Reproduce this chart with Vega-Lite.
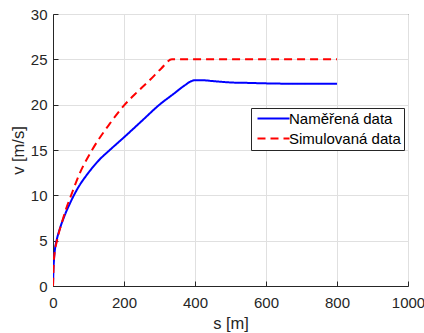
{
  "$schema": "https://vega.github.io/schema/vega-lite/v6.json",
  "width": 355,
  "height": 272,
  "autosize": {"type": "none"},
  "padding": {"left": 53, "top": 14, "right": 16, "bottom": 47},
  "background": "white",
  "config": {
    "font": "Liberation Sans",
    "view": {"stroke": "#262626", "strokeWidth": 1},
    "axis": {
      "domainColor": "#262626",
      "tickColor": "#262626",
      "labelColor": "#262626",
      "titleColor": "#262626",
      "labelFontSize": 15,
      "titleFontSize": 16.5,
      "titleFontWeight": "normal",
      "gridColor": "#e0e0e0",
      "gridWidth": 1,
      "tickSize": -5,
      "tickWidth": 1
    }
  },
  "data": {
    "values": [
      {"series": "Naměřená data", "s": 0, "v": 0},
      {"series": "Naměřená data", "s": 1, "v": 1.5},
      {"series": "Naměřená data", "s": 3, "v": 3.0},
      {"series": "Naměřená data", "s": 6, "v": 4.2},
      {"series": "Naměřená data", "s": 10, "v": 5.0},
      {"series": "Naměřená data", "s": 20, "v": 6.4},
      {"series": "Naměřená data", "s": 30, "v": 7.5},
      {"series": "Naměřená data", "s": 50, "v": 9.3},
      {"series": "Naměřená data", "s": 70, "v": 10.8},
      {"series": "Naměřená data", "s": 100, "v": 12.5},
      {"series": "Naměřená data", "s": 130, "v": 13.9},
      {"series": "Naměřená data", "s": 160, "v": 15.0},
      {"series": "Naměřená data", "s": 200, "v": 16.4},
      {"series": "Naměřená data", "s": 250, "v": 18.2},
      {"series": "Naměřená data", "s": 300, "v": 20.0},
      {"series": "Naměřená data", "s": 340, "v": 21.2},
      {"series": "Naměřená data", "s": 370, "v": 22.1},
      {"series": "Naměřená data", "s": 390, "v": 22.6},
      {"series": "Naměřená data", "s": 400, "v": 22.7},
      {"series": "Naměřená data", "s": 420, "v": 22.7},
      {"series": "Naměřená data", "s": 450, "v": 22.6},
      {"series": "Naměřená data", "s": 500, "v": 22.45},
      {"series": "Naměřená data", "s": 550, "v": 22.4},
      {"series": "Naměřená data", "s": 600, "v": 22.35},
      {"series": "Naměřená data", "s": 700, "v": 22.3},
      {"series": "Naměřená data", "s": 800, "v": 22.3},
      {"series": "Simulovaná data", "s": 0, "v": 0},
      {"series": "Simulovaná data", "s": 2, "v": 2.5},
      {"series": "Simulovaná data", "s": 5, "v": 3.8},
      {"series": "Simulovaná data", "s": 10, "v": 4.8},
      {"series": "Simulovaná data", "s": 16, "v": 5.8},
      {"series": "Simulovaná data", "s": 25, "v": 7.0},
      {"series": "Simulovaná data", "s": 35, "v": 8.3},
      {"series": "Simulovaná data", "s": 51, "v": 10.0},
      {"series": "Simulovaná data", "s": 75, "v": 12.4},
      {"series": "Simulovaná data", "s": 110, "v": 15.0},
      {"series": "Simulovaná data", "s": 160, "v": 17.9},
      {"series": "Simulovaná data", "s": 202, "v": 20.0},
      {"series": "Simulovaná data", "s": 240, "v": 21.5},
      {"series": "Simulovaná data", "s": 275, "v": 22.8},
      {"series": "Simulovaná data", "s": 305, "v": 24.0},
      {"series": "Simulovaná data", "s": 335, "v": 25.0},
      {"series": "Simulovaná data", "s": 400, "v": 25.0},
      {"series": "Simulovaná data", "s": 600, "v": 25.0},
      {"series": "Simulovaná data", "s": 800, "v": 25.0}
    ]
  },
  "mark": {"type": "line", "strokeWidth": 2, "clip": true, "interpolate": "monotone"},
  "encoding": {
    "x": {
      "field": "s",
      "type": "quantitative",
      "scale": {"domain": [0, 1000], "nice": false},
      "axis": {"values": [0, 200, 400, 600, 800, 1000], "format": "d", "title": "s [m]", "labelPadding": 14, "titlePadding": 5, "labelFlush": false}
    },
    "y": {
      "field": "v",
      "type": "quantitative",
      "scale": {"domain": [0, 30], "nice": false},
      "axis": {"values": [0, 5, 10, 15, 20, 25, 30], "title": "v [m/s]", "labelPadding": 11, "titlePadding": 4}
    },
    "color": {
      "field": "series",
      "type": "nominal",
      "scale": {"domain": ["Naměřená data", "Simulovaná data"], "range": ["#0000ff", "#ff0000"]},
      "legend": {
        "title": null,
        "orient": "none",
        "legendX": 198,
        "legendY": 94,
        "fillColor": "white",
        "strokeColor": "#262626",
        "padding": 3,
        "rowPadding": 4,
        "labelFontSize": 15,
        "labelColor": "black",
        "labelOffset": 20,
        "symbolType": "M-1,0H7",
        "symbolSize": 64,
        "symbolStrokeWidth": 2
      }
    },
    "strokeDash": {
      "field": "series",
      "type": "nominal",
      "scale": {"domain": ["Naměřená data", "Simulovaná data"], "range": [[1, 0], [8, 5]]},
      "legend": {
        "title": null,
        "orient": "none",
        "legendX": 198,
        "legendY": 94,
        "fillColor": "white",
        "strokeColor": "#262626",
        "padding": 3,
        "rowPadding": 4,
        "labelFontSize": 15,
        "labelColor": "black",
        "labelOffset": 20,
        "symbolType": "M-1,0H7",
        "symbolSize": 64,
        "symbolStrokeWidth": 2
      }
    }
  }
}
